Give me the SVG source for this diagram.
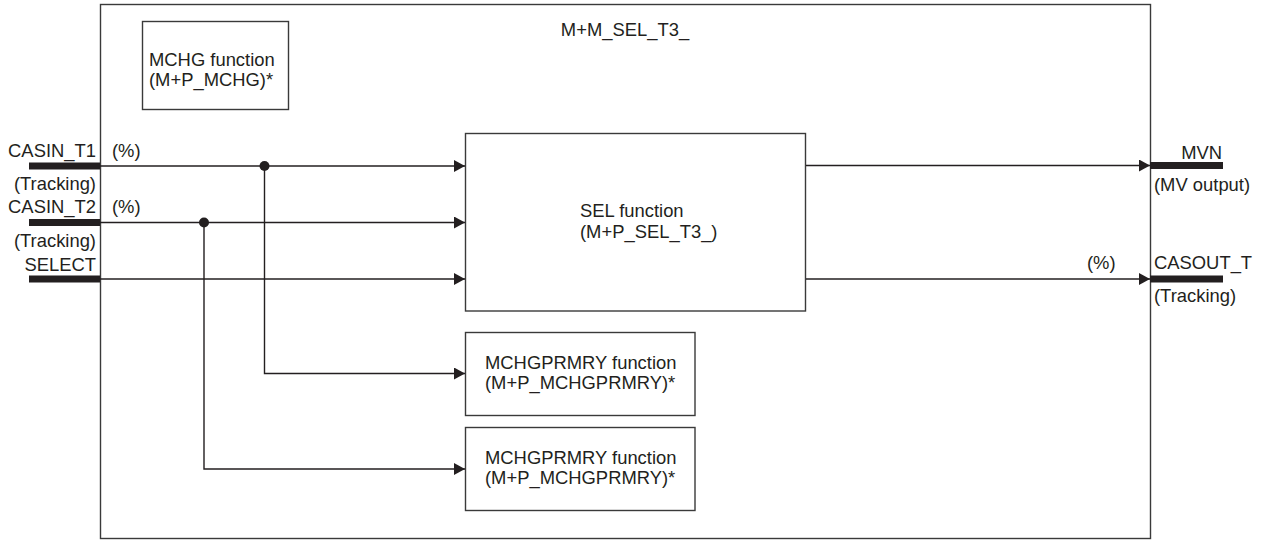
<svg xmlns="http://www.w3.org/2000/svg" width="1262" height="541" viewBox="0 0 1262 541">
<style>
text { font-family: "Liberation Sans", Arial, sans-serif; font-size: 18.4px; fill: #231f20; }
.box { fill: #ffffff; stroke: #3a3a3a; stroke-width: 1.4; }
.ln { fill: none; stroke: #231f20; stroke-width: 1.4; }
.bar { fill: none; stroke: #231f20; stroke-width: 7; }
.dot { fill: #231f20; }
.end { text-anchor: end; }
</style>
<defs>
<marker id="arr" markerUnits="userSpaceOnUse" markerWidth="12" markerHeight="12" refX="11" refY="6" orient="auto">
<path d="M0,0 L11,6 L0,12 z" fill="#231f20"/>
</marker>
</defs>
<g id="outer">
<rect class="box" x="100.5" y="4.5" width="1050" height="534"/>
<text x="625" y="36" text-anchor="middle">M+M_SEL_T3_</text>
</g>
<g id="mchg">
<rect class="box" x="142.5" y="21.5" width="146" height="88"/>
<text x="149" y="66">MCHG function</text>
<text x="149" y="86">(M+P_MCHG)*</text>
</g>
<g id="sel">
<rect class="box" x="465.5" y="133.5" width="340" height="177.5"/>
<text x="580" y="217">SEL function</text>
<text x="580" y="238">(M+P_SEL_T3_)</text>
</g>
<g id="mchgprmry1">
<rect class="box" x="465.5" y="332.5" width="229.5" height="83"/>
<text x="485" y="369">MCHGPRMRY function</text>
<text x="485" y="389">(M+P_MCHGPRMRY)*</text>
</g>
<g id="mchgprmry2">
<rect class="box" x="465.5" y="427.5" width="229.5" height="83"/>
<text x="485" y="464">MCHGPRMRY function</text>
<text x="485" y="484">(M+P_MCHGPRMRY)*</text>
</g>
<g id="in-casin-t1">
<line class="bar" x1="29" y1="166" x2="100" y2="166"/>
<text class="end" x="96" y="157">CASIN_T1</text>
<text class="end" x="96" y="190">(Tracking)</text>
<text x="112" y="157">(%)</text>
</g>
<g id="in-casin-t2">
<line class="bar" x1="29" y1="222.5" x2="100" y2="222.5"/>
<text class="end" x="96" y="213">CASIN_T2</text>
<text class="end" x="96" y="247">(Tracking)</text>
<text x="112" y="213">(%)</text>
</g>
<g id="in-select">
<line class="bar" x1="29" y1="279" x2="100" y2="279"/>
<text class="end" x="96" y="271">SELECT</text>
</g>
<g id="out-mvn">
<line class="bar" x1="1150" y1="165.5" x2="1223" y2="165.5"/>
<text class="end" x="1222" y="159">MVN</text>
<text x="1154" y="191">(MV output)</text>
</g>
<g id="out-casout-t">
<line class="bar" x1="1150" y1="279" x2="1223" y2="279"/>
<text x="1154" y="269">CASOUT_T</text>
<text x="1154" y="302">(Tracking)</text>
<text x="1087" y="269">(%)</text>
</g>
<g id="connectors">
<line class="ln" x1="100" y1="166" x2="465" y2="166" marker-end="url(#arr)"/>
<line class="ln" x1="100" y1="222.5" x2="465" y2="222.5" marker-end="url(#arr)"/>
<line class="ln" x1="100" y1="279" x2="465" y2="279" marker-end="url(#arr)"/>
<polyline class="ln" points="264.5,166 264.5,373.5 465,373.5" marker-end="url(#arr)"/>
<polyline class="ln" points="204,222.5 204,469 465,469" marker-end="url(#arr)"/>
<line class="ln" x1="806" y1="165.5" x2="1150" y2="165.5" marker-end="url(#arr)"/>
<line class="ln" x1="806" y1="279" x2="1150" y2="279" marker-end="url(#arr)"/>
<circle class="dot" cx="264.5" cy="166" r="5"/>
<circle class="dot" cx="204" cy="222.5" r="5"/>
</g>
</svg>
